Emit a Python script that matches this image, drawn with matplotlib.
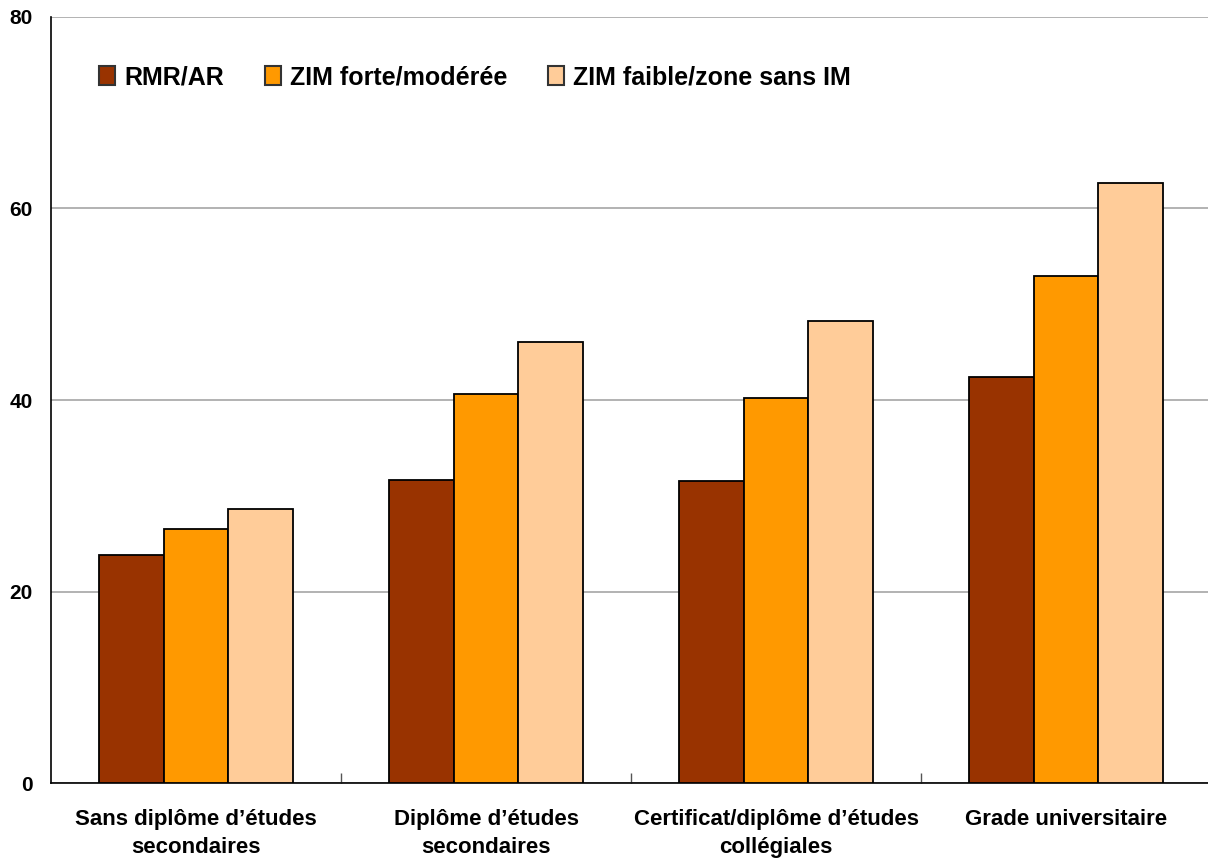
import numpy as np
import matplotlib
matplotlib.use("Agg")
import matplotlib.pyplot as plt

plt.rcParams['font.family'] = ['Liberation Sans', 'DejaVu Sans']
plt.rcParams['font.weight'] = 'bold'

categories = ["Sans diplôme d’études\nsecondaires",
              "Diplôme d’études\nsecondaires",
              "Certificat/diplôme d’études\ncollégiales",
              "Grade universitaire"]
series_names = ["RMR/AR", "ZIM forte/modérée", "ZIM faible/zone sans IM"]
rmr_ar = [23.8, 31.6, 31.5, 42.4]
zim_forte = [26.5, 40.6, 40.2, 52.9]
zim_faible = [28.6, 46.1, 48.3, 62.7]
colors = ["#993300", "#FF9900", "#FFCC99"]
yticks = [0, 20, 40, 60, 80]

W, H = 1208, 863
fig = plt.figure(figsize=(W / 100, H / 100), dpi=100)
ax = fig.add_axes([51 / W, 1 - 783 / H, (1211 - 51) / W, (783 - 17) / H])

x = np.arange(len(categories))
bw = 0.224
for i, (vals, name, c) in enumerate(zip([rmr_ar, zim_forte, zim_faible], series_names, colors)):
    ax.bar(x + (i - 1) * bw, vals, width=bw, color=c, edgecolor="black",
           linewidth=1.3, label=name, zorder=3)

ax.set_xlim(-0.5, len(categories) - 0.5)
ax.set_ylim(0, 80)
ax.set_yticks(yticks)
ax.set_yticklabels([str(v) for v in yticks], fontsize=15, fontweight='bold')
ax.tick_params(axis='y', length=0, pad=13)
ax.yaxis.grid(True, color="#a6a6a6", linewidth=1.2, zorder=0)

# group boundaries as inward ticks, labels centred under each group
ax.set_xticks(np.arange(0.5, len(categories) - 0.5, 1.0))
ax.set_xticklabels([])
ax.tick_params(axis='x', which='major', direction='in', length=7, width=1, color="#555555")
ax.set_xticks(x, minor=True)
ax.set_xticklabels(categories, minor=True, fontsize=16, fontweight='bold', linespacing=1.4)
ax.tick_params(axis='x', which='minor', length=0, pad=19)

for s in ["top", "right"]:
    ax.spines[s].set_visible(False)
ax.spines["left"].set_linewidth(1.2)
ax.spines["bottom"].set_linewidth(1.2)

leg = ax.legend(loc="upper left", bbox_to_anchor=(0.033, 0.95), ncol=3, frameon=False,
                fontsize=18, handlelength=0.64, handleheight=0.76, handletextpad=0.35,
                columnspacing=1.65, borderaxespad=0)
for h in leg.legend_handles:
    h.set_edgecolor("#333333")
    h.set_linewidth(1.5)

fig.savefig("out.png", dpi=100)
